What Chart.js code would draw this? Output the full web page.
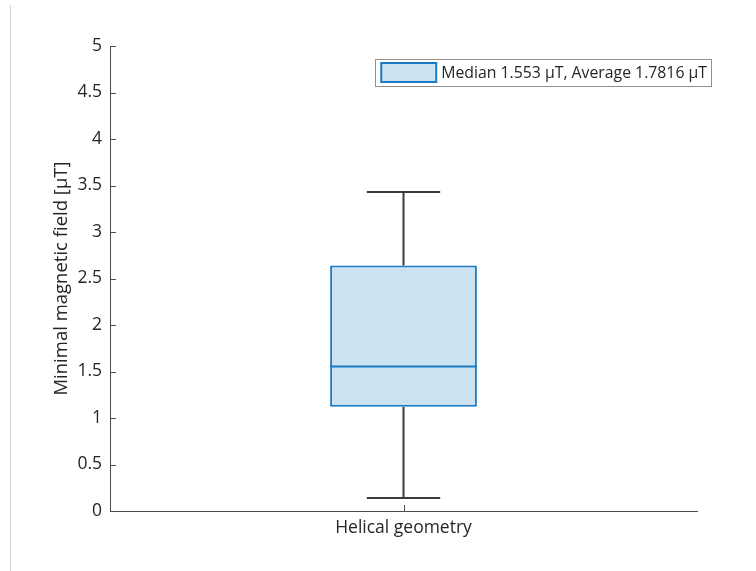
<!DOCTYPE html>
<html>
<head>
<meta charset="utf-8">
<script src="https://cdn.jsdelivr.net/npm/chart.js@4.4.1/dist/chart.umd.min.js"></script>
<style>
  html, body { margin: 0; padding: 0; background: #ffffff; }
  #wrap { width: 756px; height: 571px; }
</style>
</head>
<body>
<div id="wrap"><canvas id="c" width="756" height="571"></canvas></div>
<script>
// Box-plot summary for the helical geometry run
const categories = ['Helical geometry'];
const whiskerLow = [0.14];
const quartile1 = [1.12];
const medians = [1.553];
const quartile3 = [2.64];
const whiskerHigh = [3.43];
const averages = [1.7816];
const yTickValues = [0, 0.5, 1, 1.5, 2, 2.5, 3, 3.5, 4, 4.5, 5];

const FONT = '"Open Sans", "Noto Sans", sans-serif';
const TICK_SIZE = 17.5;
const LEGEND_SIZE = 15.8;
const TEXT = '#262626';
const AXIS = '#4d4d4d';
const BOX_EDGE = '#1a7ac4';
const BOX_FILL = '#cde2f1';
const WHISKER = '#3a3a3a';

const legendText = 'Median ' + medians[0] + ' \u03bcT, Average ' + averages[0] + ' \u03bcT';

// Whiskers, caps and median line drawn around the floating-bar box
const boxPlotPlugin = {
  id: 'boxPlot',
  beforeDatasetsDraw(chart) {
    const ctx = chart.ctx;
    const y = chart.scales.y;
    const meta = chart.getDatasetMeta(0);
    meta.data.forEach((bar, i) => {
      const cx = bar.x;
      const capHalf = bar.width / 4;
      ctx.save();
      ctx.strokeStyle = WHISKER;
      ctx.lineWidth = 2;
      ctx.beginPath();
      ctx.moveTo(cx, y.getPixelForValue(quartile3[i]));
      ctx.lineTo(cx, y.getPixelForValue(whiskerHigh[i]));
      ctx.moveTo(cx, y.getPixelForValue(quartile1[i]));
      ctx.lineTo(cx, y.getPixelForValue(whiskerLow[i]));
      ctx.moveTo(cx - capHalf, y.getPixelForValue(whiskerHigh[i]));
      ctx.lineTo(cx + capHalf, y.getPixelForValue(whiskerHigh[i]));
      ctx.moveTo(cx - capHalf, y.getPixelForValue(whiskerLow[i]));
      ctx.lineTo(cx + capHalf, y.getPixelForValue(whiskerLow[i]));
      ctx.stroke();
      ctx.restore();
    });
  },
  afterDatasetsDraw(chart) {
    const ctx = chart.ctx;
    const y = chart.scales.y;
    const meta = chart.getDatasetMeta(0);
    meta.data.forEach((bar, i) => {
      const py = y.getPixelForValue(medians[i]);
      ctx.save();
      ctx.strokeStyle = BOX_EDGE;
      ctx.lineWidth = 2;
      ctx.beginPath();
      ctx.moveTo(bar.x - bar.width / 2, py);
      ctx.lineTo(bar.x + bar.width / 2, py);
      ctx.stroke();
      ctx.restore();
    });
  }
};

// Inward tick marks on both axes plus the framed legend
const axesDecorPlugin = {
  id: 'axesDecor',
  beforeDraw(chart) {
    const ctx = chart.ctx;
    ctx.save();
    ctx.strokeStyle = '#d4d4d4';
    ctx.lineWidth = 1;
    ctx.beginPath();
    ctx.moveTo(10.5, 5);
    ctx.lineTo(10.5, chart.height);
    ctx.stroke();
    ctx.restore();
  },
  afterDraw(chart) {
    const ctx = chart.ctx;
    const area = chart.chartArea;
    const ys = chart.scales.y;
    const xs = chart.scales.x;
    ctx.save();
    ctx.strokeStyle = AXIS;
    ctx.lineWidth = 1;
    ctx.beginPath();
    yTickValues.forEach(v => {
      const py = Math.round(ys.getPixelForValue(v)) + 0.5;
      ctx.moveTo(area.left, py);
      ctx.lineTo(area.left + 6, py);
    });
    categories.forEach((c, i) => {
      const px = Math.round(xs.getPixelForValue(i)) + 0.5;
      ctx.moveTo(px, area.bottom);
      ctx.lineTo(px, area.bottom - 6);
    });
    ctx.stroke();

    // legend
    ctx.font = LEGEND_SIZE + 'px ' + FONT;
    const tw = ctx.measureText(legendText).width;
    const right = area.right + 14;
    const top = 59;
    const h = 27;
    const iconW = 55;
    const w = 6 + iconW + 5 + tw + 4;
    const left = right - w;
    ctx.fillStyle = '#ffffff';
    ctx.fillRect(left, top, w, h);
    ctx.strokeStyle = '#8f8f8f';
    ctx.lineWidth = 1;
    ctx.strokeRect(Math.round(left) + 0.5, top + 0.5, Math.round(w), h);
    ctx.fillStyle = BOX_FILL;
    ctx.fillRect(left + 6, top + 4, iconW, h - 8);
    ctx.strokeStyle = BOX_EDGE;
    ctx.lineWidth = 2;
    ctx.strokeRect(left + 6, top + 4, iconW, h - 8);
    ctx.fillStyle = TEXT;
    ctx.textBaseline = 'middle';
    ctx.textAlign = 'left';
    ctx.fillText(legendText, left + 6 + iconW + 5, top + h / 2 + 1);
    ctx.restore();
  }
};

new Chart(document.getElementById('c'), {
  type: 'bar',
  data: {
    labels: categories,
    datasets: [{
      label: legendText,
      data: quartile1.map((q, i) => [q, quartile3[i]]),
      backgroundColor: BOX_FILL,
      borderColor: BOX_EDGE,
      borderWidth: 2,
      borderSkipped: false,
      categoryPercentage: 1,
      barPercentage: 0.25
    }]
  },
  options: {
    responsive: false,
    animation: false,
    devicePixelRatio: 1,
    layout: { padding: { left: 0, top: 46, right: 59, bottom: 0 } },
    plugins: {
      legend: { display: false },
      tooltip: { enabled: false }
    },
    scales: {
      x: {
        grid: { display: false, drawTicks: false },
        border: { display: true, color: AXIS, width: 1 },
        ticks: { color: TEXT, font: { family: FONT, size: TICK_SIZE }, padding: 7 },
        afterFit(scale) { scale.height = 60; }
      },
      y: {
        min: 0,
        max: 5,
        afterBuildTicks(scale) { scale.ticks = yTickValues.map(v => ({ value: v })); },
        grid: { display: false, drawTicks: false },
        border: { display: true, color: AXIS, width: 1 },
        ticks: {
          color: TEXT,
          font: { family: FONT, size: TICK_SIZE },
          padding: 8,
          callback: v => String(v)
        },
        title: {
          display: true,
          text: 'Minimal magnetic field [\u03bcT]',
          color: TEXT,
          font: { family: FONT, size: 18.5 },
          padding: { top: 51, bottom: 0 }
        },
        afterFit(scale) { scale.width = 110; }
      }
    }
  },
  plugins: [boxPlotPlugin, axesDecorPlugin]
});
</script>
</body>
</html>
